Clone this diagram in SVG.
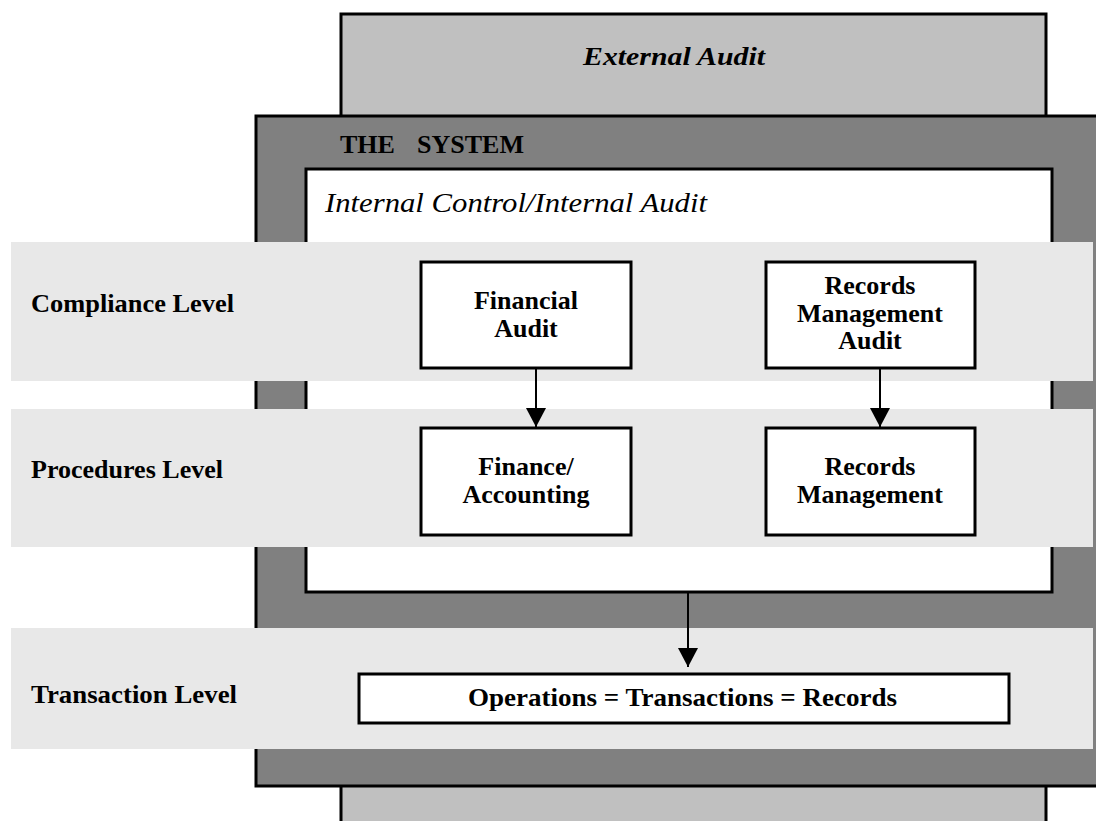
<svg xmlns="http://www.w3.org/2000/svg" width="1096" height="821" viewBox="0 0 1096 821">
<style>
text{font-family:"Liberation Serif","Times New Roman",serif;fill:#000}
.b{font-weight:bold;font-size:26px}
.lvl{font-weight:bold;font-size:26px}
.node{fill:#fff;stroke:#000;stroke-width:3}
.band{fill:#e8e8e8}
.conn{stroke:#000;stroke-width:2;fill:none}
</style>
<defs>
<marker id="ah" viewBox="0 0 19 20" refX="19" refY="10" markerWidth="19" markerHeight="20" markerUnits="userSpaceOnUse" orient="auto">
<path d="M0,0 L19,10 L0,20 z" fill="#000"/>
</marker>
</defs>
<rect width="1096" height="821" fill="#fff"/>
<g id="external-audit">
<rect x="341" y="14" width="705" height="820" fill="#c0c0c0" stroke="#000" stroke-width="3"/>
<text x="674" y="65" text-anchor="middle" font-weight="bold" font-style="italic" font-size="26" textLength="182" lengthAdjust="spacingAndGlyphs">External Audit</text>
</g>
<g id="the-system">
<rect x="256" y="116" width="860" height="670" fill="#808080" stroke="#000" stroke-width="3"/>
<text class="b" y="153" font-size="27"><tspan x="340">THE</tspan><tspan x="417">SYSTEM</tspan></text>
</g>
<g id="internal-control">
<rect x="306" y="169" width="746" height="423" fill="#fff" stroke="#000" stroke-width="3"/>
<text x="325" y="212" font-style="italic" font-size="27" textLength="382" lengthAdjust="spacingAndGlyphs">Internal Control/Internal Audit</text>
</g>
<g id="compliance-level">
<rect class="band" x="11" y="242" width="1082" height="139"/>
<text class="lvl" x="31" y="312" textLength="203" lengthAdjust="spacingAndGlyphs">Compliance Level</text>
</g>
<g id="procedures-level">
<rect class="band" x="11" y="409" width="1082" height="138"/>
<text class="lvl" x="31" y="478" textLength="192" lengthAdjust="spacingAndGlyphs">Procedures Level</text>
</g>
<g id="transaction-level">
<rect class="band" x="11" y="628" width="1082" height="121"/>
<text class="lvl" x="31" y="703" textLength="206" lengthAdjust="spacingAndGlyphs">Transaction Level</text>
</g>
<g id="financial-audit">
<rect class="node" x="421" y="262" width="210" height="106"/>
<text class="b" x="526" y="309" text-anchor="middle">Financial</text>
<text class="b" x="526" y="337" text-anchor="middle">Audit</text>
</g>
<g id="records-management-audit">
<rect class="node" x="766" y="262" width="209" height="106"/>
<text class="b" x="870" y="294" text-anchor="middle">Records</text>
<text class="b" x="870" y="322" text-anchor="middle">Management</text>
<text class="b" x="870" y="349" text-anchor="middle">Audit</text>
</g>
<g id="finance-accounting">
<rect class="node" x="421" y="428" width="210" height="107"/>
<text class="b" x="526" y="475" text-anchor="middle">Finance/</text>
<text class="b" x="526" y="503" text-anchor="middle">Accounting</text>
</g>
<g id="records-management">
<rect class="node" x="766" y="428" width="209" height="107"/>
<text class="b" x="870" y="475" text-anchor="middle">Records</text>
<text class="b" x="870" y="503" text-anchor="middle">Management</text>
</g>
<g id="operations">
<rect class="node" x="359" y="674" width="650" height="49"/>
<text class="b" x="682.5" y="706" text-anchor="middle" textLength="429" lengthAdjust="spacingAndGlyphs">Operations = Transactions = Records</text>
</g>
<g id="connectors">
<path class="conn" d="M536 369 V427" marker-end="url(#ah)"/>
<path class="conn" d="M880 369 V427" marker-end="url(#ah)"/>
<path class="conn" d="M688 593 V667" marker-end="url(#ah)"/>
</g>
</svg>
